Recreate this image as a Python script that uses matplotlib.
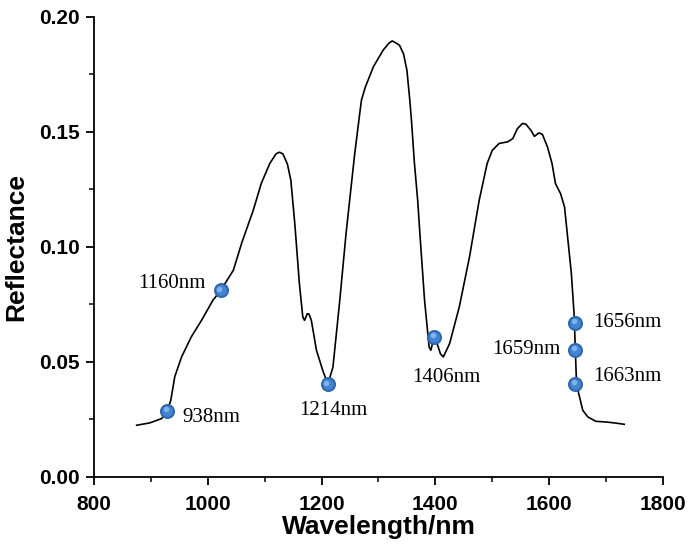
import matplotlib
matplotlib.use('Agg')
import matplotlib.pyplot as plt
from matplotlib.ticker import MultipleLocator, FormatStrFormatter
import matplotlib.transforms as mtransforms

# spectrum
wavelength = [875, 898, 919, 929, 935, 942, 954, 971, 989, 1009, 1023, 1045, 1060,
              1080, 1094, 1109, 1120, 1126, 1132, 1140, 1146, 1153, 1161, 1167, 1170,
              1175, 1178, 1182, 1191, 1202, 1211, 1220, 1232, 1243, 1258, 1264, 1270,
              1277, 1291, 1308, 1318, 1324, 1330, 1337, 1344, 1350, 1355, 1358, 1363,
              1369, 1373, 1381, 1389, 1392, 1397, 1403, 1409, 1414, 1425, 1442, 1460,
              1477, 1491, 1500, 1512, 1527, 1536, 1544, 1553, 1559, 1568, 1574, 1582,
              1588, 1597, 1605, 1611, 1620, 1627, 1633, 1639, 1644, 1646, 1648, 1652,
              1659, 1668, 1682, 1700, 1715, 1732]
reflectance = [0.0225, 0.0235, 0.0254, 0.0289, 0.0333, 0.0436, 0.0522, 0.0609, 0.0681,
               0.0768, 0.0812, 0.0899, 0.1020, 0.1160, 0.1276, 0.1363, 0.1405,
               0.1412, 0.1405, 0.1360, 0.1290, 0.1100, 0.0841, 0.0696, 0.0681, 0.0710,
               0.0708, 0.0681, 0.0551, 0.0464, 0.0403, 0.0478, 0.0768, 0.1058, 0.1400,
               0.1520, 0.1638, 0.1696, 0.1783, 0.1855, 0.1885, 0.1896, 0.1888, 0.1877,
               0.1840, 0.1768, 0.1640, 0.1550, 0.1370, 0.1200, 0.1050, 0.0768, 0.0565,
               0.0551, 0.0600, 0.0580, 0.0535, 0.0522, 0.0580, 0.0739, 0.0957, 0.1203,
               0.1363, 0.1420, 0.1450, 0.1457, 0.1471, 0.1514, 0.1537, 0.1534, 0.1507,
               0.1481, 0.1496, 0.1490, 0.1435, 0.1363, 0.1276, 0.1232, 0.1174, 0.1029,
               0.0884, 0.0700, 0.0550, 0.0410, 0.0362, 0.0290, 0.0261, 0.0242, 0.0239,
               0.0235, 0.0229]

# selected bands (marker position and its label)
band_x = [929, 1023, 1211, 1398, 1646, 1646, 1646]
band_y = [0.0289, 0.0812, 0.0403, 0.0609, 0.0670, 0.0554, 0.0406]
band_labels = ['938nm', '1160nm', '1214nm', '1406nm', '1656nm', '1659nm', '1663nm']
# label offsets in points and alignment
label_offsets = [(11, -5), (-11, 5), (4, -19), (9, -29), (13, 0), (-11, 0), (13, 5)]
label_ha = ['left', 'right', 'center', 'center', 'left', 'right', 'left']

fig = plt.figure(figsize=(6.94, 5.47), dpi=100)
ax = fig.add_axes([0.1354, 0.128, 0.8199, 0.841])

ax.plot(wavelength, reflectance, color='black', lw=1.2, zorder=2)

# blue balls with a bit of shading
ax.plot(band_x, band_y, 'o', ms=9.8, mfc='#2f68b0', mec='#2f68b0', zorder=3)
ax.plot(band_x, band_y, 'o', ms=7.8, mfc='#4384d0', mec='none', zorder=4)
hl = mtransforms.offset_copy(ax.transData, fig=fig, x=-1.2, y=1.2, units='points')
ax.plot(band_x, band_y, 'o', ms=4, mfc='#80b2ea', mec='none', zorder=5, transform=hl)

for x, y, lab, off, ha in zip(band_x, band_y, band_labels, label_offsets, label_ha):
    ax.annotate(lab, (x, y), xytext=off, textcoords='offset points', ha=ha, va='center',
                fontsize=15, family='Liberation Serif')

ax.set_xlim(800, 1800)
ax.set_ylim(0, 0.2)
ax.xaxis.set_major_locator(MultipleLocator(200))
ax.xaxis.set_minor_locator(MultipleLocator(100))
ax.yaxis.set_major_locator(MultipleLocator(0.05))
ax.yaxis.set_minor_locator(MultipleLocator(0.025))
ax.yaxis.set_major_formatter(FormatStrFormatter('%.2f'))

for s in ['top', 'right']:
    ax.spines[s].set_visible(False)
for s in ['left', 'bottom']:
    ax.spines[s].set_linewidth(1.3)

ax.tick_params(which='major', direction='out', length=6, width=1.3, pad=4)
ax.tick_params(axis='x', which='major', pad=7)
ax.tick_params(which='minor', direction='out', length=3.5, width=1.1)
for lab in ax.get_xticklabels() + ax.get_yticklabels():
    lab.set_family('Liberation Sans')
    lab.set_fontweight('bold')
    lab.set_fontsize(15)

ax.set_xlabel('Wavelength/nm', family='Liberation Sans', fontweight='bold', fontsize=19, labelpad=1)
ax.set_ylabel('Reflectance', family='Liberation Sans', fontweight='bold', fontsize=19, labelpad=8)

fig.savefig('out.png', dpi=100)
